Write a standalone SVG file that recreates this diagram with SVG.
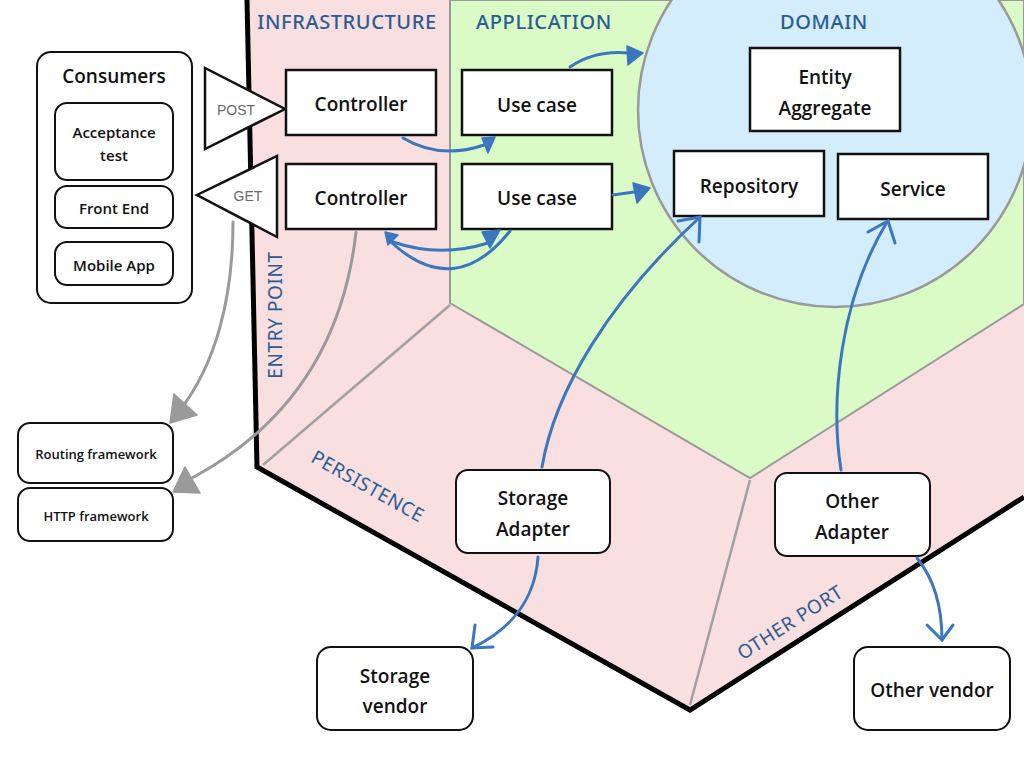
<svg xmlns="http://www.w3.org/2000/svg" width="1024" height="768" viewBox="0 0 1024 768">
<style>
.t{font-family:"Open Sans","Noto Sans","Liberation Sans",sans-serif;font-weight:600;fill:#111;text-anchor:middle;dominant-baseline:central}
.lbl{font-family:"Noto Sans","Liberation Sans",sans-serif;fill:#2b5b95;text-anchor:middle;dominant-baseline:central;font-size:20px;font-weight:500;letter-spacing:0.6px}
.rl{font-family:"Noto Sans","Liberation Sans",sans-serif;fill:#2b5b95;text-anchor:middle;dominant-baseline:central;font-size:19px;letter-spacing:0.6px}
.box{fill:#fff;stroke:#111;stroke-width:2.5}
.rbox{fill:#fff;stroke:#111;stroke-width:2}
.blue{fill:none;stroke:#3a77bf;stroke-width:3;stroke-linecap:round}
.bhead{fill:#3a77bf;stroke:#3a77bf;stroke-width:1.5;stroke-linejoin:round}
.gray{fill:none;stroke:#9a9a9a;stroke-width:3;stroke-linecap:round}
.ghead{fill:#9a9a9a;stroke:#9a9a9a;stroke-width:1.5;stroke-linejoin:round}
.tri{fill:#fff;stroke:#111;stroke-width:2.5;stroke-linejoin:miter}
.http{font-family:"Liberation Sans",Arial,sans-serif;fill:#6a6a6a;font-size:14px;text-anchor:middle;dominant-baseline:central}
</style>
<rect width="1024" height="768" fill="#fff"/>
<g id="layers">
<polygon points="247,0 1024,0 1024,497 690,710 257,467" fill="#f9dfe0"/>
<polygon points="450,0 1024,0 1024,304 750,478 450,303" fill="#dbfbc6" stroke="#999" stroke-width="2"/>
<circle cx="835" cy="110" r="197" fill="#d3edfc" stroke="#999" stroke-width="2.5"/>
<line x1="450" y1="305" x2="263" y2="465" stroke="#a0a0a0" stroke-width="2.5"/>
<line x1="750" y1="480" x2="690" y2="705" stroke="#a0a0a0" stroke-width="2.5"/>
<polyline points="247,0 257,467 690,710 1024,497" fill="none" stroke="#000" stroke-width="5" stroke-linejoin="miter"/>
</g>
<g id="labels">
<text class="lbl" x="347" y="21">INFRASTRUCTURE</text>
<text class="lbl" x="544" y="21">APPLICATION</text>
<text class="lbl" x="824" y="21">DOMAIN</text>
<text class="rl" transform="translate(275,315) rotate(-90)">ENTRY POINT</text>
<text class="rl" transform="translate(368,486) rotate(29.3)">PERSISTENCE</text>
<text class="rl" transform="translate(790,622) rotate(-32.5)">OTHER PORT</text>
</g>
<g id="consumers">
<rect class="rbox" x="37" y="52" width="155" height="251" rx="14"/>
<text class="t" x="114" y="76" font-size="19" font-weight="bold">Consumers</text>
</g>
<g id="acceptance-test">
<rect class="rbox" x="55" y="103" width="118" height="77" rx="12"/>
<text class="t" x="114" y="132" font-size="15">Acceptance</text>
<text class="t" x="114" y="155" font-size="15">test</text>
</g>
<g id="front-end">
<rect class="rbox" x="55" y="186" width="118" height="42" rx="12"/>
<text class="t" x="114" y="208" font-size="15">Front End</text>
</g>
<g id="mobile-app">
<rect class="rbox" x="55" y="242" width="118" height="43" rx="12"/>
<text class="t" x="114" y="265" font-size="15">Mobile App</text>
</g>
<g id="post">
<polygon class="tri" points="205,68 205,149 285,109"/>
<text class="http" x="236" y="110">POST</text>
</g>
<g id="get">
<polygon class="tri" points="277,156 277,237 197,195"/>
<text class="http" x="248" y="196">GET</text>
</g>
<g id="controller-1">
<rect class="box" x="286" y="70" width="150" height="65"/>
<text class="t" x="361" y="104" font-size="19">Controller</text>
</g>
<g id="controller-2">
<rect class="box" x="286" y="164" width="150" height="65"/>
<text class="t" x="361" y="198" font-size="19">Controller</text>
</g>
<g id="use-case-1">
<rect class="box" x="462" y="70" width="150" height="65"/>
<text class="t" x="537" y="105" font-size="19">Use case</text>
</g>
<g id="use-case-2">
<rect class="box" x="462" y="164" width="150" height="65"/>
<text class="t" x="537" y="198" font-size="19">Use case</text>
</g>
<g id="entity-aggregate">
<rect class="box" x="750" y="48" width="150" height="83"/>
<text class="t" x="825" y="77" font-size="19">Entity</text>
<text class="t" x="825" y="108" font-size="19">Aggregate</text>
</g>
<g id="repository">
<rect class="box" x="674" y="151" width="150" height="65"/>
<text class="t" x="749" y="186" font-size="19">Repository</text>
</g>
<g id="service">
<rect class="box" x="838" y="154" width="150" height="65"/>
<text class="t" x="913" y="189" font-size="19">Service</text>
</g>
<g id="routing-framework">
<rect class="rbox" x="18" y="423" width="155" height="60" rx="12"/>
<text class="t" x="96" y="454" font-size="13">Routing framework</text>
</g>
<g id="http-framework">
<rect class="rbox" x="18" y="488" width="155" height="53" rx="12"/>
<text class="t" x="96" y="516" font-size="13">HTTP framework</text>
</g>
<g id="storage-adapter">
<rect class="rbox" x="456" y="470" width="154" height="83" rx="12"/>
<text class="t" x="533" y="498" font-size="19">Storage</text>
<text class="t" x="533" y="529" font-size="19">Adapter</text>
</g>
<g id="other-adapter">
<rect class="rbox" x="775" y="473" width="155" height="83" rx="12"/>
<text class="t" x="852" y="501" font-size="19">Other</text>
<text class="t" x="852" y="532" font-size="19">Adapter</text>
</g>
<g id="storage-vendor">
<rect class="rbox" x="317" y="647" width="156" height="83" rx="14"/>
<text class="t" x="395" y="676" font-size="19">Storage</text>
<text class="t" x="395" y="706" font-size="19">vendor</text>
</g>
<g id="other-vendor">
<rect class="rbox" x="854" y="647" width="156" height="83" rx="14"/>
<text class="t" x="932" y="690" font-size="19">Other vendor</text>
</g>
<g id="connectors">
<path class="gray" d="M233,222 C233,300 215,365 180,410"/>
<polygon class="ghead" points="170,423 174,394 197,415"/>
<path class="gray" d="M356,232 C345,330 300,420 192,478"/>
<polygon class="ghead" points="173,492 185,467 200,493"/>
<path class="blue" d="M403,138 Q440,160 484,145"/>
<polygon class="bhead" points="482,138 495,137 488,153"/>
<path class="blue" d="M570,67 Q595,50 628,53"/>
<polygon class="bhead" points="627,46 628,65 643,53"/>
<path class="blue" d="M613,195 L634,192"/>
<polygon class="bhead" points="633,183 637,203 650,188"/>
<path class="blue" d="M393,242 Q440,258 488,243"/>
<polygon class="bhead" points="482,232 500,230 490,248"/>
<path class="blue" d="M510,231 Q455,300 392,243"/>
<polygon class="bhead" points="385,232 398,235 388,245"/>
<path class="blue" d="M542,467 C555,390 610,300 699,218"/>
<path class="blue" d="M678,221 L700,217 L699,242"/>
<path class="blue" d="M841,470 C830,400 840,300 887,222"/>
<path class="blue" d="M868,232 L888,221 L895,243"/>
<path class="blue" d="M538,557 C535,600 510,630 472,648"/>
<path class="blue" d="M493,647 L472,648 L475,625"/>
<path class="blue" d="M917,558 C935,580 942,610 942,640"/>
<path class="blue" d="M927,625 L942,640 L953,625"/>
</g>
</svg>
